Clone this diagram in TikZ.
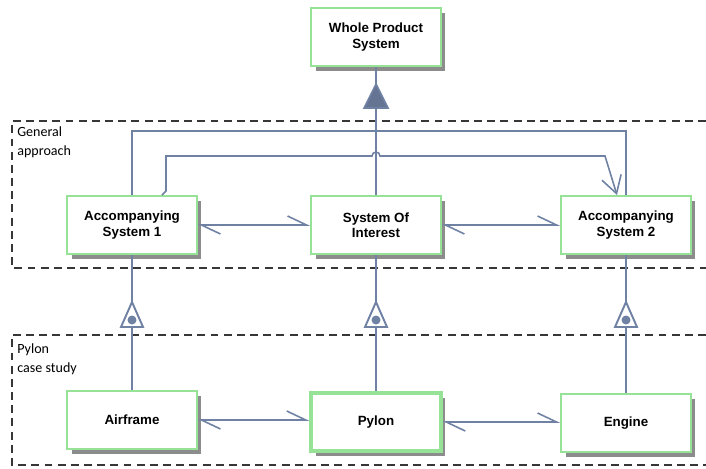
\documentclass[tikz,border=0pt]{standalone}
\usepackage{fontspec}
\setmainfont{Liberation Sans}
\newfontfamily\notefont{Carlito}
\usetikzlibrary{arrows.meta,calc,shadows}

\definecolor{boxgreen}{RGB}{150,226,150}
\definecolor{linkblue}{RGB}{112,130,163}
\definecolor{trifill}{RGB}{101,116,146}
\definecolor{framegray}{RGB}{55,55,55}
\definecolor{shadegray}{RGB}{140,140,140}

\tikzset{
  block/.style={draw=boxgreen, line width=1.1pt, fill=white,
    minimum width=2.6cm, minimum height=1.16cm, align=center,
    font=\fontsize{7.6}{8.6}\selectfont\bfseries,
    general shadow={fill=shadegray, shadow xshift=0.09cm, shadow yshift=-0.09cm}},
  link/.style={draw=linkblue, line width=0.9pt},
  flow/.style={link, {Straight Barb[harpoon,length=0.38cm,width=0.36cm]}-{Straight Barb[harpoon,length=0.38cm,width=0.36cm]}},
  gentri/.style={link, fill=trifill},
  insttri/.style={link, line width=1.1pt, fill=white},
  frame/.style={draw=framegray, line width=0.8pt, dash pattern=on 4.5pt off 3pt},
  note/.style={anchor=north west, align=left, inner sep=0pt,
    font=\notefont\fontsize{8}{11}\selectfont},
}

\begin{document}
\begin{tikzpicture}[x=0.02cm, y=-0.02cm]
\useasboundingbox (0,0) rectangle (706,468);

% dashed frames
\draw[frame] (706,121) -- (12,121) -- (12,268) -- (706,268);
\node[note] (generalnote) at (17,126) {General\\approach};
\draw[frame] (706,335) -- (12,335) -- (12,465) -- (706,465);
\node[note] (pylonnote) at (17,343) {Pylon\\case study};

% blocks
\node[block] (whole) at (376,37) {Whole Product\\System};
\node[block] (acc1) at (132,225) {Accompanying\\System 1};
\node[block] (soi) at (376,225) {System Of\\Interest};
\node[block] (acc2) at (626,225) {Accompanying\\System 2};
\node[block] (airframe) at (132,420) {Airframe};
\node[block, line width=2pt] (pylon) at (376,422) {Pylon};
\node[block] (engine) at (626,423) {Engine};

% generalization
\coordinate (genjoin) at (soi.north |- 0,131);
\coordinate (wholegen) at (soi.north |- 0,108);
\draw[link] (soi.north) -- (whole.south);
\draw[link] (acc1.north) |- (genjoin) -| (acc2.north);
\filldraw[gentri] (wholegen) -- ++(-12,0) -- ++(12,-24) -- ++(12,24) -- cycle;

% directed association with a jump
\draw[link, -{Straight Barb[length=0.34cm,width=0.4cm]}]
  ($(acc1.north)+(30,0)$) -- ++(4,-4) |- ($(soi.north |- 0,156)+(-4,0)$)
  arc[start angle=180, end angle=0, radius=0.08cm]
  -- ($(acc2.north |- 0,156)+(-21,0)$) -- ($(acc2.north)+(-9,0)$);

% flows
\draw[flow] (acc1.east) -- (soi.west);
\draw[flow] (soi.east) -- (acc2.west);
\draw[flow] (airframe.east) -- (airframe.east -| pylon.west);
\draw[flow] (pylon.east) -- (pylon.east -| engine.west);

% instances
\coordinate (inst1) at (acc1.south |- 0,327);
\coordinate (inst2) at (soi.south |- 0,327);
\coordinate (inst3) at (acc2.south |- 0,327);
\draw[link] (acc1.south) -- (airframe.north);
\draw[link] (soi.south) -- (pylon.north);
\draw[link] (acc2.south) -- (engine.north);
\filldraw[insttri] (inst1) -- ++(-11,0) -- ++(11,-25) -- ++(11,25) -- cycle;
\filldraw[insttri] (inst2) -- ++(-11,0) -- ++(11,-25) -- ++(11,25) -- cycle;
\filldraw[insttri] (inst3) -- ++(-11,0) -- ++(11,-25) -- ++(11,25) -- cycle;
\fill[linkblue] (inst1) ++(0,-7) circle[radius=0.09cm];
\fill[linkblue] (inst2) ++(0,-7) circle[radius=0.09cm];
\fill[linkblue] (inst3) ++(0,-7) circle[radius=0.09cm];
\end{tikzpicture}
\end{document}
